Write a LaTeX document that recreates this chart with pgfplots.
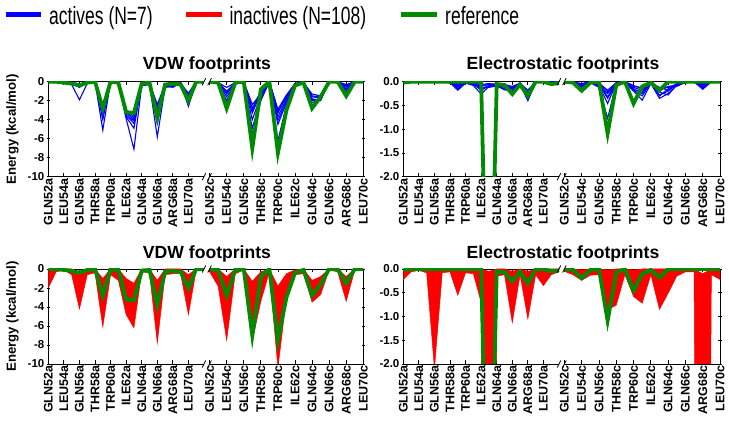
\documentclass[border=0pt]{standalone}
\usepackage{graphicx}
\usepackage{pgfplots}
\pgfplotsset{compat=1.18}
\usepackage{pgfplotstable}
\usepgfplotslibrary{fillbetween}
\usepackage{fontspec}
\setmainfont{Liberation Sans}
\definecolor{refgreen}{RGB}{0,139,0}

% VDW, chain a: 7 actives (b1..b7) + reference (g)
\pgfplotstableread{
r b1 b2 b3 b4 b5 b6 b7 g
52 0 0 0 0 0 0 0 0
53 0 0 0 -0.1 0 0 0 0
54 -0.1 -0.1 0 -0.1 -0.1 0 -0.1 -0.1
55 -0.3 -0.2 -0.1 -0.2 -0.1 -0.2 -0.1 -0.2
56 -1.9 -0.6 -0.4 -0.3 -0.2 -0.5 -0.3 -0.4
57 -0.2 -0.1 -0.1 0 -0.1 -0.1 0 -0.1
58 0 0 0 0 0 0 0 0
59 -5.1 -4.0 -3.5 -3.0 -2.6 -3.2 -2.8 -2.8
60 0 0 0 0 0 0 0 0
61 -0.2 -0.1 -0.2 -0.1 -0.1 -0.2 -0.1 -0.1
62 -3.9 -3.7 -3.5 -3.3 -3.0 -3.2 -3.6 -3.2
63 -7.1 -4.9 -4.4 -4.0 -3.6 -3.8 -4.1 -3.3
64 -0.4 -0.3 -0.3 -0.2 -0.3 -0.4 -0.2 -0.2
65 -0.3 -0.2 -0.2 -0.1 -0.2 -0.3 -0.1 -0.1
66 -5.8 -4.4 -3.5 -3.0 -2.6 -3.3 -2.4 -3.8
67 -0.6 -0.5 -0.4 -0.3 -0.5 -0.4 -0.3 -0.3
68 -0.5 -0.4 -0.6 -0.3 -0.5 -0.4 -0.3 -0.2
69 -0.2 -0.1 -0.1 -0.1 -0.2 -0.1 -0.1 -0.3
70 -2.6 -2.2 -1.8 -1.5 -1.2 -2.0 -1.4 -2.0
71 0 0 0 0 0 0 0 0
72 0 0 0 0 0 0 0 0
}\vdwA

% VDW, chain c
\pgfplotstableread{
r b1 b2 b3 b4 b5 b6 b7 g
52 0 0 0 0 0 0 0 0
53 -0.1 -0.1 -0.2 -0.1 -0.1 -0.2 -0.1 -0.1
54 -2.0 -1.6 -1.3 -1.0 -0.6 -2.3 -1.1 -2.8
55 -0.1 -0.2 -0.1 -0.1 -0.1 -0.2 -0.1 -0.1
56 -0.1 0 -0.1 0 0 -0.1 0 0
57 -4.9 -4.0 -3.3 -2.8 -2.4 -5.6 -3.0 -7.0
58 -1.8 -1.5 -1.2 -1.0 -1.3 -2.0 -1.1 -0.8
59 0 0 0 0 0 0 0 0
60 -4.1 -3.7 -3.3 -2.9 -4.5 -6.2 -3.1 -7.5
61 -2.0 -1.8 -1.5 -1.4 -2.2 -2.5 -1.6 -3.0
62 -0.3 -0.3 -0.2 -0.2 -0.4 -0.3 -0.2 -0.4
63 -0.1 0 -0.1 0 -0.1 -0.1 0 -0.1
64 -2.2 -1.6 -1.8 -2.0 -1.3 -1.5 -1.9 -2.8
65 -1.9 -1.7 -2.0 -1.8 -1.5 -1.6 -1.9 -1.6
66 0 0 0 0 0 0 0 0
67 0 0 0 0 0 0 0 0
68 -0.9 -0.6 -0.4 -0.8 -0.5 -1.1 -0.3 -1.5
69 0 0 0 0 0 0 0 0
70 0 0 0 0 0 0 0 0
}\vdwC

% Electrostatic, chain a
\pgfplotstableread{
r b1 b2 b3 b4 b5 b6 b7 g
52 0 0 0 0 0 0 0 -0.02
53 0 0 0 0 0 0 0 0
54 0 0 0 0 0 0 0 0
55 0 0 0 0 0 0 0 0
56 0 0 0 0 0 0 0 0
57 0 0 0 0 0 0 0 0
58 -0.02 0 -0.03 0 -0.01 0 -0.02 0
59 -0.18 -0.12 -0.08 -0.05 -0.10 -0.15 -0.06 0
60 -0.03 0 -0.02 0 -0.01 -0.02 0 0
61 -0.08 -0.05 -0.03 -0.06 -0.04 -0.05 -0.02 0
62 -0.26 -0.15 -0.10 -0.12 -0.08 -0.18 -0.06 0
63 -0.10 -0.08 -0.05 -0.12 -0.06 -0.09 -0.04 -7
64 -0.08 -0.07 -0.06 -0.09 -0.05 -0.07 -0.06 -0.05
65 -0.15 -0.10 -0.08 -0.17 -0.06 -0.12 -0.05 -0.07
66 -0.22 -0.15 -0.12 -0.20 -0.10 -0.18 -0.14 -0.26
67 -0.06 -0.04 -0.05 -0.07 -0.03 -0.05 -0.04 -0.06
68 -0.40 -0.30 -0.25 -0.35 -0.18 -0.28 -0.22 -0.30
69 -0.02 0 -0.01 0 0 -0.01 0 0
70 0 0 0 0 0 0 0 0
71 -0.02 0 0 -0.01 0 0 0 -0.05
72 0 0 0 0 0 0 0 -0.03
}\eleA

% Electrostatic, chain c
\pgfplotstableread{
r b1 b2 b3 b4 b5 b6 b7 g
52 0 0 0 0 0 0 0 0
53 -0.02 -0.01 -0.02 0 -0.01 -0.02 0 -0.02
54 -0.10 -0.07 -0.05 -0.12 -0.04 -0.08 -0.06 -0.19
55 -0.02 -0.01 -0.02 -0.01 0 -0.02 -0.01 -0.02
56 -0.12 -0.08 -0.05 -0.10 -0.03 -0.06 -0.04 0
57 -0.77 -0.46 -0.32 -0.25 -0.18 -0.35 -0.22 -1.09
58 -0.05 -0.03 -0.02 -0.04 -0.02 -0.05 -0.03 -0.07
59 -0.02 0 -0.01 0 0 -0.01 0 0
60 -0.20 -0.15 -0.12 -0.18 -0.10 -0.16 -0.08 -0.46
61 -0.39 -0.25 -0.18 -0.30 -0.12 -0.22 -0.15 -0.10
62 -0.04 -0.02 -0.03 -0.02 -0.01 -0.03 -0.02 -0.02
63 -0.35 -0.28 -0.15 -0.22 -0.30 -0.18 -0.12 -0.18
64 -0.25 -0.20 -0.12 -0.28 -0.15 -0.10 -0.18 0
65 -0.08 -0.05 -0.10 -0.06 -0.04 -0.07 -0.05 0
66 -0.02 0 -0.01 0 0 -0.01 0 0
67 0 0 0 0 0 0 0 0
68 -0.14 -0.10 -0.06 -0.12 -0.08 -0.16 -0.05 0
69 0 0 0 0 0 0 0 0
70 0 0 0 0 0 0 0 0
}\eleC

% inactives (N=108): lowest and highest value at each residue
\pgfplotstableread{
r lo hi
52 -2.0 -0.2
53 -0.3 0
54 -0.1 0
55 -0.6 0
56 -4.2 -0.3
57 -0.6 0
58 -0.4 0
59 -6.1 -1.0
60 -0.6 0
61 -1.2 0
62 -4.8 -1.0
63 -6.2 -1.5
64 -0.3 0
65 -0.4 0
66 -7.8 -1.2
67 -0.6 0
68 -0.5 0
69 -0.5 0
70 -4.8 -0.6
71 -0.1 0
72 0 0
}\vdwRA

\pgfplotstableread{
r lo hi
52 -0.3 0
53 -1.8 0
54 -7.5 -0.8
55 -0.5 0
56 -0.1 0
57 -7.6 -1.3
58 -3.4 -0.3
59 -0.3 0
60 -10.4 -1.8
61 -3.0 -0.5
62 -0.6 -0.1
63 -0.5 0
64 -3.5 -1.2
65 -2.7 -0.8
66 -0.1 0
67 -0.3 0
68 -3.4 -0.8
69 -0.1 0
70 0 0
}\vdwRC

\pgfplotstableread{
r lo hi
52 -0.22 -0.02
53 -0.06 0
54 -0.03 0
55 -0.08 0
56 -2.1 -0.05
57 -0.08 0
58 -0.06 0
59 -0.55 -0.02
60 -0.08 0
61 -0.1 0
62 -0.7 0
63 -30 -0.05
64 -0.15 0
65 -0.12 0
66 -1.13 -0.05
67 -0.12 0
68 -1.05 -0.05
69 -0.12 0
70 -0.35 0
71 -0.12 0
72 -0.06 0
}\eleRA

\pgfplotstableread{
r lo hi
52 -0.05 0
53 -0.12 0
54 -0.24 -0.02
55 -0.13 0
56 -0.12 0
57 -0.86 -0.02
58 -0.76 0
59 -0.12 0
60 -0.58 -0.02
61 -0.72 0
62 -0.12 0
63 -0.85 0
64 -0.51 0
65 -0.15 0
66 -0.06 0
67 -0.06 0
68 -30 -0.1
69 -0.12 0
70 -0.22 0
}\eleRC

\pgfplotsset{
  panel/.style={
    scale only axis, height=95pt, anchor=south west, clip=true,
    axis x line=box,
    tick align=inside, major tick length=3.5pt,
    tick style={black, line width=0.8pt},
    xtick={52,54,...,70}, xtick pos=both, xticklabel pos=lower,
    x tick label style={rotate=90, anchor=east, font=\fontsize{12.5}{14}\selectfont\bfseries, inner sep=1.5pt},
    y tick label style={font=\fontsize{11.5}{13}\selectfont\bfseries, inner sep=2pt},
  },
  chainA/.style={panel, width=155.7pt, xmin=52, xmax=72,
    axis y line=left, ytick pos=left,
    xticklabels={GLN52a,LEU54a,GLN56a,THR58a,TRP60a,ILE62a,GLN64a,GLN66a,ARG68a,LEU70a},
    axis line style={-, line width=0.9pt, black}},
  chainC/.style={panel, xmin=52, xmax=70,
    axis y line=right, ytick pos=right, yticklabels={,,,,,},
    xticklabels={GLN52c,LEU54c,GLN56c,THR58c,TRP60c,ILE62c,GLN64c,GLN66c,ARG68c,LEU70c},
    axis line style={-, line width=0.9pt, black}},
  vdw/.style={ymin=-10, ymax=0, ytick={-10,-8,-6,-4,-2,0}, yticklabels={-10,-8,-6,-4,-2,0}},
  ele/.style={ymin=-2, ymax=0, ytick={-2,-1.5,-1,-0.5,0}, yticklabels={-2.0,-1.5,-1.0,-0.5,0.0}},
  actline/.style={blue, line width=1.1pt},
  refline/.style={refgreen, line width=3.8pt},
}

\begin{document}
\begin{tikzpicture}

% ---------- top left: VDW, actives ----------
\begin{axis}[vdw, chainA, at={(48.3pt,248.3pt)}]
\pgfplotsinvokeforeach{1,...,7}{\addplot[actline] table[x=r,y=b#1]{\vdwA};}
\addplot[refline] table[x=r,y=g]{\vdwA};
\end{axis}
\begin{axis}[vdw, chainC, width=153.7pt, at={(209.6pt,248.3pt)}]
\pgfplotsinvokeforeach{1,...,7}{\addplot[actline] table[x=r,y=b#1]{\vdwC};}
\addplot[refline] table[x=r,y=g]{\vdwC};
\end{axis}

% ---------- top right: electrostatic, actives ----------
\begin{axis}[ele, chainA, at={(403.3pt,248.3pt)}]
\pgfplotsinvokeforeach{1,...,7}{\addplot[actline] table[x=r,y=b#1]{\eleA};}
\addplot[refline] table[x=r,y=g]{\eleA};
\end{axis}
\begin{axis}[ele, chainC, width=155.6pt, at={(564.4pt,248.3pt)}]
\pgfplotsinvokeforeach{1,...,7}{\addplot[actline] table[x=r,y=b#1]{\eleC};}
\addplot[refline] table[x=r,y=g]{\eleC};
\end{axis}

% ---------- bottom left: VDW, inactives ----------
\begin{axis}[vdw, chainA, at={(48.3pt,61pt)}]
\addplot[draw=none, name path=vaL] table[x=r,y=lo]{\vdwRA};
\addplot[draw=none, name path=vaH] table[x=r,y=hi]{\vdwRA};
\addplot[fill=red, draw=red, line width=0.5pt] fill between[of=vaL and vaH];
\addplot[refline] table[x=r,y=g]{\vdwA};
\end{axis}
\begin{axis}[vdw, chainC, width=153.7pt, at={(209.6pt,61pt)}]
\addplot[draw=none, name path=vcL] table[x=r,y=lo]{\vdwRC};
\addplot[draw=none, name path=vcH] table[x=r,y=hi]{\vdwRC};
\addplot[fill=red, draw=red, line width=0.5pt] fill between[of=vcL and vcH];
\addplot[refline] table[x=r,y=g]{\vdwC};
\end{axis}

% ---------- bottom right: electrostatic, inactives ----------
\begin{axis}[ele, chainA, at={(403.3pt,61pt)}]
\addplot[draw=none, name path=eaL] table[x=r,y=lo]{\eleRA};
\addplot[draw=none, name path=eaH] table[x=r,y=hi]{\eleRA};
\addplot[fill=red, draw=red, line width=0.5pt] fill between[of=eaL and eaH];
\addplot[refline] table[x=r,y=g]{\eleA};
\end{axis}
\begin{axis}[ele, chainC, width=155.6pt, at={(564.4pt,61pt)}]
\addplot[draw=none, name path=ecL] table[x=r,y=lo]{\eleRC};
\addplot[draw=none, name path=ecH] table[x=r,y=hi]{\eleRC};
\addplot[fill=red, draw=red, line width=0.5pt] fill between[of=ecL and ecH];
\addplot[refline] table[x=r,y=g]{\eleC};
\end{axis}

% axis-break marks
\foreach \xa/\xc/\yb/\yt in {204/209.6/248.3/343.3, 559/564.4/248.3/343.3, 204/209.6/61/156, 559/564.4/61/156}{
  \foreach \xx in {\xa,\xc}{
    \foreach \yy in {\yb,\yt}{
      \draw[line width=0.8pt] (\xx pt-1.8pt,\yy pt-3.5pt) -- (\xx pt+1.8pt,\yy pt+3.5pt);
    }
  }
}

% titles
\node[font=\fontsize{17.6}{20}\selectfont\bfseries, anchor=base, inner sep=0pt] at (207pt,355.7pt) {VDW footprints};
\node[font=\fontsize{17.6}{20}\selectfont\bfseries, anchor=base, inner sep=0pt] at (563pt,355.7pt) {Electrostatic footprints};
\node[font=\fontsize{17.6}{20}\selectfont\bfseries, anchor=base, inner sep=0pt] at (207pt,166.7pt) {VDW footprints};
\node[font=\fontsize{17.6}{20}\selectfont\bfseries, anchor=base, inner sep=0pt] at (563pt,166.7pt) {Electrostatic footprints};

% y labels
\node[font=\fontsize{13.2}{15}\selectfont\bfseries, rotate=90, inner sep=0pt] at (12.5pt,295.8pt) {Energy (kcal/mol)};
\node[font=\fontsize{13.2}{15}\selectfont\bfseries, rotate=90, inner sep=0pt] at (12.5pt,108.5pt) {Energy (kcal/mol)};

% legend
\draw[blue, line width=5.6pt] (6pt,410.5pt) -- (41pt,410.5pt);
\draw[red, line width=5.6pt] (186pt,410.5pt) -- (222pt,410.5pt);
\draw[refgreen, line width=5.6pt] (401pt,410.5pt) -- (437pt,410.5pt);
\node[anchor=base west, inner sep=0pt] at (49pt,400pt) {\scalebox{0.7}[1]{\fontsize{25}{30}\selectfont actives (N=7)}};
\node[anchor=base west, inner sep=0pt] at (229.3pt,400pt) {\scalebox{0.7}[1]{\fontsize{25}{30}\selectfont inactives (N=108)}};
\node[anchor=base west, inner sep=0pt] at (445pt,400pt) {\scalebox{0.7}[1]{\fontsize{25}{30}\selectfont reference}};

\pgfresetboundingbox
\path[use as bounding box] (0pt,0pt) rectangle (729pt,425pt);
\end{tikzpicture}
\end{document}
